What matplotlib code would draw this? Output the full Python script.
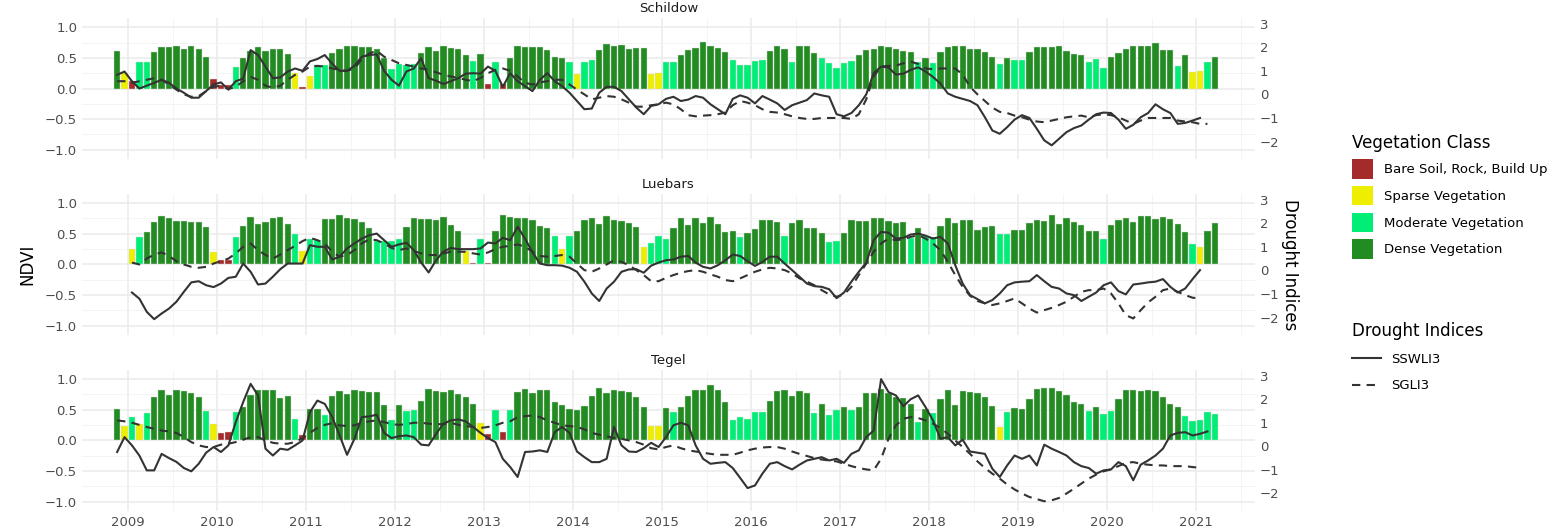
import numpy as np
import matplotlib
matplotlib.use("Agg")
import matplotlib.pyplot as plt
from matplotlib.patches import Patch
from matplotlib.lines import Line2D

nan = np.nan
stations = ["Schildow", "Luebars", "Tegel"]

# monthly NDVI, Nov 2008 .. Mar 2021
ndvi_schildow = [0.61, 0.26,
    0.13, 0.43, 0.43, 0.60, 0.67, 0.67, 0.69, 0.65, 0.70, 0.65, 0.52, 0.15,
    0.05, 0.05, 0.35, 0.50, 0.62, 0.68, 0.62, 0.65, 0.65, 0.56, 0.26, 0.03,
    0.21, 0.38, 0.38, 0.58, 0.65, 0.69, 0.69, 0.67, 0.67, 0.65, 0.50, 0.32,
    0.40, 0.38, 0.40, 0.58, 0.67, 0.61, 0.69, 0.66, 0.64, 0.54, 0.45, 0.56,
    0.07, 0.43, 0.07, 0.50, 0.70, 0.68, 0.68, 0.68, 0.63, 0.51, 0.50, 0.44,
    0.23, 0.43, 0.47, 0.63, 0.73, 0.70, 0.71, 0.64, 0.66, 0.66, 0.23, 0.26,
    0.43, 0.43, 0.55, 0.63, 0.66, 0.76, 0.70, 0.66, 0.59, 0.46, 0.39, 0.39,
    0.45, 0.47, 0.62, 0.69, 0.65, 0.43, 0.69, 0.70, 0.58, 0.49, 0.42, 0.34,
    0.42, 0.45, 0.54, 0.63, 0.65, 0.69, 0.68, 0.65, 0.61, 0.59, 0.43, 0.50,
    0.42, 0.59, 0.68, 0.69, 0.69, 0.64, 0.64, 0.59, 0.52, 0.40, 0.50, 0.46,
    0.47, 0.59, 0.68, 0.68, 0.68, 0.69, 0.62, 0.56, 0.55, 0.43, 0.48, 0.34,
    0.51, 0.58, 0.65, 0.69, 0.69, 0.69, 0.74, 0.63, 0.63, 0.37, 0.55, 0.27,
    0.28, 0.44, 0.52]
ndvi_luebars = [nan, nan,
    0.26, 0.45, 0.53, 0.69, 0.79, 0.76, 0.71, 0.71, 0.70, 0.70, 0.61, 0.20,
    0.08, 0.08, 0.45, 0.62, 0.77, 0.66, 0.70, 0.76, 0.77, 0.66, 0.49, 0.22,
    0.41, 0.40, 0.74, 0.74, 0.80, 0.76, 0.74, 0.70, 0.59, 0.38, 0.38, 0.38,
    0.42, 0.61, 0.75, 0.74, 0.74, 0.72, 0.77, 0.64, 0.54, 0.22, 0.03, 0.41,
    0.02, 0.54, 0.80, 0.78, 0.76, 0.76, 0.72, 0.62, 0.60, 0.46, 0.26, 0.46,
    0.54, 0.73, 0.76, 0.66, 0.79, 0.73, 0.71, 0.67, 0.61, 0.28, 0.35, 0.47,
    0.42, 0.59, 0.75, 0.65, 0.75, 0.67, 0.78, 0.66, 0.53, 0.55, 0.45, 0.51,
    0.58, 0.73, 0.72, 0.69, 0.46, 0.68, 0.73, 0.59, 0.59, 0.52, 0.36, 0.39,
    0.52, 0.73, 0.71, 0.71, 0.75, 0.75, 0.71, 0.68, 0.69, 0.43, 0.59, 0.47,
    0.45, 0.63, 0.75, 0.68, 0.72, 0.72, 0.56, 0.61, 0.62, 0.49, 0.49, 0.56,
    0.57, 0.68, 0.72, 0.71, 0.81, 0.66, 0.75, 0.69, 0.65, 0.55, 0.55, 0.42,
    0.64, 0.72, 0.75, 0.70, 0.79, 0.79, 0.74, 0.77, 0.74, 0.66, 0.53, 0.34,
    0.29, 0.55, 0.68]
ndvi_tegel = [0.52, 0.24,
    0.38, 0.26, 0.44, 0.71, 0.83, 0.74, 0.83, 0.80, 0.77, 0.71, 0.48, 0.26,
    0.12, 0.14, 0.47, 0.55, 0.74, 0.82, 0.82, 0.82, 0.70, 0.72, 0.35, 0.09,
    0.51, 0.51, 0.42, 0.72, 0.81, 0.75, 0.83, 0.81, 0.79, 0.79, 0.58, 0.33,
    0.57, 0.48, 0.49, 0.65, 0.84, 0.80, 0.79, 0.82, 0.75, 0.71, 0.60, 0.29,
    0.11, 0.49, 0.14, 0.49, 0.79, 0.84, 0.78, 0.83, 0.83, 0.62, 0.57, 0.52,
    0.50, 0.56, 0.73, 0.85, 0.78, 0.83, 0.81, 0.79, 0.71, 0.55, 0.24, 0.24,
    0.53, 0.47, 0.55, 0.72, 0.83, 0.83, 0.90, 0.82, 0.62, 0.34, 0.38, 0.35,
    0.47, 0.47, 0.64, 0.81, 0.82, 0.73, 0.81, 0.78, 0.45, 0.59, 0.42, 0.49,
    0.55, 0.49, 0.55, 0.77, 0.78, 0.84, 0.78, 0.71, 0.69, 0.60, 0.30, 0.52,
    0.45, 0.68, 0.83, 0.58, 0.81, 0.79, 0.78, 0.71, 0.56, 0.22, 0.46, 0.53,
    0.51, 0.68, 0.84, 0.85, 0.85, 0.81, 0.74, 0.62, 0.60, 0.48, 0.55, 0.43,
    0.48, 0.68, 0.82, 0.82, 0.81, 0.82, 0.80, 0.71, 0.59, 0.55, 0.40, 0.31,
    0.33, 0.47, 0.43]

# drought indices (right axis units), monthly from Nov 2008
sswli_schildow = [.83, .97, .56, .25, .37, .49, .62, .49, .25, .07,
    -.14, -.14, .14, .42, .51, .2, .56, .67, 1.88, 1.67,
    1.18, .69, .72, .97, 1.1, 1.0, 1.4, 1.5, 1.67, 1.3,
    1.0, 1.0, 1.21, 1.6, 1.67, 1.7, 1.0, .62, .37, .97,
    1.1, 1.53, .69, .58, .44, .56, .69, .88, .9, .88,
    1.18, 1.0, .32, .9, .56, .35, .14, .62, .9, .56,
    .35, .07, -.28, -.63, -.6, .07, .32, .32, .14, -.21,
    -.56, -.84, -.49,
    -.42, -.19, -.1, -.28, -.22, -.07, -.14, -.42, -.63, -.84,
    -.19, -.04, -.14, -.38, -.07, -.22, -.38, -.66, -.46, -.35,
    -.24, .04, -.04, -.1, -.84, -.93, -.79, -.46, 0.0, .9,
    1.18, 1.14, .84, .88, 1.04, 1.15, .97, .74, .46, .04,
    -.1, -.19, -.28, -.46, -.97, -1.53, -1.67, -1.39, -1.07, -.88,
    -1.0, -1.46, -1.95, -2.16, -1.88, -1.6, -1.43, -1.32, -1.07, -.84,
    -.77, -.79, -1.07, -1.46, -1.29, -.97, -.79, -.42, -.63, -.79,
    -1.25, -1.21, -1.11, -1.0]
sgli_schildow = [.56, .56, .49, .56, .62, .69, .62, .42, .2, 0.0,
    -.1, -.07, .14, .32, .37, .23, .32, .56, .74, .62,
    .37, .28, .37, .62, .83, .97, 1.18, 1.21, 1.18, 1.1,
    1.04, 1.0, 1.1, 1.5, 1.74, 1.85, 1.6, 1.46, 1.32, 1.25,
    1.18, 1.1, 1.04, .94, .83, .76, .7, .62, .56, .7,
    .9, 1.04, 1.1, 1.0, .76, .49, .42, .51, .56, .62,
    .62, .42, .2, 0.0, -.21, -.14, -.07, -.1, -.21, -.35,
    -.52, -.52, -.46,
    -.42, -.35, -.42, -.63, -.88, -.93, -.9, -.88, -.84, -.77,
    -.46, -.28, -.35, -.46, -.63, -.74, -.77, -.84, -.93, -1.0,
    -1.04, -1.04, -1.0, -1.0, -1.0, -1.0, -1.04, -.84, -.21, .76,
    1.18, 1.21, 1.22, 1.32, 1.39, 1.29, 1.1, 1.07, 1.1, 1.1,
    1.1, .84, .32, 0.0, -.28, -.56, -.74, -.79, -.9, -.97,
    -1.07, -1.15, -1.18, -1.11, -1.04, -.97, -.93, -.9, -.97, -.88,
    -.84, -.88, -.97, -1.11, -1.25, -1.11, -1.0, -1.0, -1.0, -1.0,
    -1.11, -1.15, -1.18, -1.25, -1.25]
sswli_luebars = [nan, nan, -.94, -1.2, -1.76, -2.07, -1.83, -1.62, -1.33, -.91,
    -.51, -.46, -.63, -.71, -.56, -.32, -.27, .29, -.06, -.6,
    -.56, -.27, .05, .29, .29, .29, 1.07, 1.0, 1.0, .46,
    .58, .93, 1.14, 1.35, 1.49, 1.56, 1.28, 1.0, 1.1, 1.17,
    .86, .33, -.09, .43, .8, .95, .9, .9, .9, .93,
    1.18, 1.14, 1.38, 1.28, 1.85, 1.34, .77, .29, .22, .22,
    .2, .11, -.06, -.48, -.98, -1.3, -.77, -.48, -.06, .04,
    .05, -.1, .2,
    .33, .43, .46, .58, .61, .33, .15, .08, .22, .43,
    .67, .61, .39, .19, .36, .58, .58, .29, .01, -.27,
    -.56, -.67, -.7, -.8, -1.18, -.94, -.48, -.06, .33, 1.28,
    1.63, 1.6, 1.35, 1.38, 1.52, 1.56, 1.47, 1.35, 1.42, 1.14,
    .22, -.56, -1.05, -1.22, -1.4, -1.26, -.98, -.63, -.51, -.48,
    -.46, -.2, -.46, -.7, -.77, -.98, -1.05, -1.3, -1.12, -.94,
    -.63, -.51, -.88, -1.02, -.6, -.56, -.51, -.48, -.37, -.7,
    -.94, -.77, -.37, .01]
sgli_luebars = [nan, nan, .33, .25, .5, .67, .76, .61, .39, .25,
    .15, .11, .15, .29, .39, .5, .72, 1.0, 1.14, .86,
    .65, .5, .67, .86, 1.04, 1.24, 1.38, 1.28, 1.14, .79,
    .58, .65, .86, 1.14, 1.32, 1.28, 1.14, .95, .86, .93,
    .82, .72, .65, .65, .72, .79, .79, .79, .72, .67,
    .76, .9, 1.0, 1.04, 1.1, 1.0, .79, .61, .58, .61,
    .65, .58, .29, .01, -.06, .08, .25, .43, .36, .22,
    .01, -.2, -.46,
    -.46, -.32, -.2, -.1, -.03, .01, -.06, -.17, -.27, -.41,
    -.46, -.34, -.2, -.06, .04, .11, .08, .01, -.13, -.34,
    -.48, -.63, -.84, -1.02, -1.12, -1.02, -.7, -.2, .29, .79,
    1.14, 1.35, 1.28, 1.32, 1.42, 1.49, 1.35, 1.14, .86, .36,
    -.2, -.7, -1.08, -1.3, -1.4, -1.47, -1.4, -1.3, -1.19, -1.4,
    -1.62, -1.79, -1.69, -1.59, -1.47, -1.33, -1.12, -.91, -.84, -.84,
    -.77, -.98, -1.4, -1.9, -2.04, -1.69, -1.36, -1.12, -.84, -.77,
    -.91, -1.05, -1.16, -1.19]
sswli_tegel = [-.24, .39, .04, -.39, -1.02, -1.02, -.32, -.5, -.66, -.92,
    -1.06, -.74, -.27, -.03, -.24, .04, 1.03, 1.88, 2.65, 2.16,
    -.1, -.39, -.1, -.15, .04, .25, 1.45, 1.94, 1.8, 1.24,
    .46, -.36, .32, 1.24, 1.27, 1.34, .57, .35, .43, .46,
    .39, .07, .04, .53, .96, 1.1, 1.14, 1.06, .82, .57,
    .35, .18, -.53, -.88, -1.3, -.24, -.22, -.17, -.24, .6,
    .82, .57, -.22, -.46, -.67, -.67, -.53, .82, .04, -.22,
    -.24, -.08, .15, -.03, .39, .89,
    1.0, .89, .04, -.53, -.74, -.7, -.67, -.92, -1.34, -1.77,
    -1.66, -1.16, -.74, -.67, -.84, -.98, -.78, -.6, -.53, -.46,
    -.6, -.53, -.7, -.32, -.17, .39, .67, 2.85, 2.3, 2.16,
    1.7, 2.0, 2.16, 1.66, 1.1, .32, .39, .04, .28, -.22,
    -.27, -.32, -.95, -1.3, -.81, -.39, -.53, -.39, -.81, .07,
    -.1, -.24, -.39, -.67, -.84, -.92, -1.16, -1.02, -.98, -.67,
    -.84, -1.44, -.78, -.6, -.39, -.1, .46, .57, .6, .46,
    .53, .63]
sgli_tegel = [1.1, 1.06, 1.0, .91, .82, .74, .67, .63, .57, .39,
    .18, .04, -.03, -.03, .07, .11, .18, .28, .39, .39,
    .25, .15, .11, .11, .18, .35, .57, .78, .91, .98,
    .89, .86, .89, 1.0, 1.06, 1.1, 1.03, .94, .91, .94,
    1.0, 1.0, .96, .94, .94, 1.0, .91, .86, .82, .78,
    .82, .89, 1.0, 1.06, 1.24, 1.28, 1.31, 1.24, 1.1, 1.0,
    .89, .86, .82, .72, .57, .49, .43, .35, .32, .25,
    .18, .07, -.08, -.13, -.03, .04,
    -.08, -.17, -.22, -.27, -.32, -.36, -.36, -.36, -.27, -.17,
    -.1, -.05, -.03, -.03, -.1, -.22, -.32, -.41, -.5, -.56,
    -.6, -.64, -.74, -.84, -.92, -.98, -1.02, -.53, .32, .89,
    1.17, 1.24, 1.2, 1.1, .96, .78, .53, .25, -.03, -.32,
    -.64, -.92, -1.16, -1.37, -1.62, -1.83, -2.0, -2.15, -2.24, -2.33,
    -2.29, -2.19, -2.0, -1.8, -1.58, -1.37, -1.2, -1.06, -.98, -.84,
    -.7, -.67, -.74, -.78, -.81, -.81, -.84, -.84, -.84, -.88,
    -.91]

ndvi = [ndvi_schildow, ndvi_luebars, ndvi_tegel]
sswli = [sswli_schildow, sswli_luebars, sswli_tegel]
sgli = [sgli_schildow, sgli_luebars, sgli_tegel]

class_names = ["Bare Soil, Rock, Build Up", "Sparse Vegetation",
               "Moderate Vegetation", "Dense Vegetation"]
class_colors = ["#A52A2A", "#EEEE00", "#00EE76", "#228B22"]
class_breaks = [0.2, 0.3, 0.5]

def months(n):
    return 2008 + (10.5 + np.arange(n)) / 12.0

def to_ndvi(d):
    return (np.asarray(d, dtype=float) - 0.25) / 2.6

fig = plt.figure(figsize=(15.61, 5.30), dpi=100)
rects = [(0.0525, 0.700, 0.7515, 0.266),
         (0.0525, 0.368, 0.7515, 0.266),
         (0.0525, 0.036, 0.7515, 0.266)]
years = np.arange(2009, 2022)

for i, name in enumerate(stations):
    ax = fig.add_axes(rects[i])
    vals = np.asarray(ndvi[i], dtype=float)
    x = months(len(vals))
    cls = np.digitize(np.nan_to_num(vals), class_breaks)
    cols = [class_colors[c] for c in cls]
    ax.bar(x, vals, width=0.85 / 12, color=cols, edgecolor="#dddddd",
           linewidth=0.3, zorder=2)
    s = sswli[i]
    ax.plot(months(len(s)), to_ndvi(s), color="#333333", lw=1.5, zorder=3)
    g = sgli[i]
    ax.plot(months(len(g)), to_ndvi(g), color="#333333", lw=1.5,
            dashes=(4, 3), zorder=3)

    ax.set_xlim(2008.48, 2021.66)
    ax.set_ylim(-1.15, 1.15)
    ax.set_xticks(years)
    ax.set_xticks(years + 0.5, minor=True)
    ax.set_yticks([-1.0, -0.5, 0.0, 0.5, 1.0])
    ax.set_yticks([-0.75, -0.25, 0.25, 0.75], minor=True)
    ax.grid(which="major", color="#EBEBEB", lw=1.1, zorder=0)
    ax.grid(which="minor", color="#F3F3F3", lw=0.6, zorder=0)
    ax.set_axisbelow(True)
    for sp in ax.spines.values():
        sp.set_visible(False)
    ax.tick_params(which="both", length=0, labelsize=9.5, labelcolor="#4D4D4D")
    if i < 2:
        ax.tick_params(axis="x", labelbottom=False)
    ax.set_title(name, fontsize=9.5, color="#1A1A1A", pad=4)

    sec = ax.secondary_yaxis("right", functions=(lambda y: y * 2.6 + 0.25,
                                                 lambda d: (d - 0.25) / 2.6))
    sec.set_yticks([-2, -1, 0, 1, 2, 3])
    sec.tick_params(length=0, labelsize=9.5, labelcolor="#4D4D4D")
    for sp in sec.spines.values():
        sp.set_visible(False)
    if i == 1:
        ax.set_ylabel("NDVI", fontsize=12, labelpad=6)
        sec.set_ylabel("Drought Indices", fontsize=12, rotation=270, labelpad=14)

veg_handles = [Patch(facecolor=c, edgecolor="none") for c in class_colors]
leg1 = fig.legend(veg_handles, class_names, loc="upper left",
                  bbox_to_anchor=(1340 / 1561, 1 - 122 / 530), frameon=False,
                  title="Vegetation Class", title_fontsize=12, fontsize=9.5,
                  handlelength=1.6, handleheight=1.9, labelspacing=0.55,
                  alignment="left")
ind_handles = [Line2D([], [], color="#333333", lw=1.5),
               Line2D([], [], color="#333333", lw=1.5, dashes=(4, 3))]
fig.legend(ind_handles, ["SSWLI3", "SGLI3"], loc="upper left",
           bbox_to_anchor=(1340 / 1561, 1 - 310 / 530), frameon=False,
           title="Drought Indices", title_fontsize=12, fontsize=9.5,
           handlelength=2.2, labelspacing=1.0, alignment="left")

fig.savefig("out.png", dpi=100, facecolor="white")
